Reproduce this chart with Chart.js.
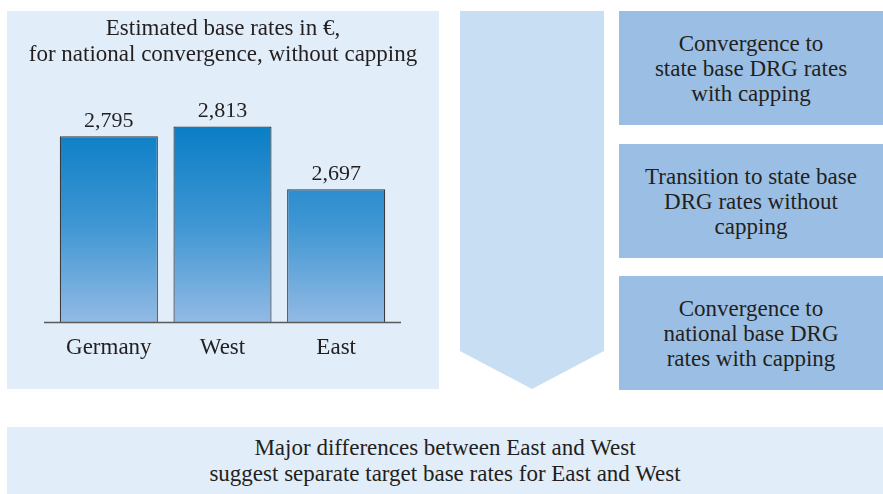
<!DOCTYPE html>
<html>
<head>
<meta charset="utf-8">
<script src="https://cdn.jsdelivr.net/npm/chart.js@4.4.1/dist/chart.umd.min.js"></script>
<style>
  body { margin: 0; background: #fff; font-family: "Liberation Serif", Tinos, "Times New Roman", "DejaVu Serif", serif; color: #231f20; }
  #page { position: relative; width: 883px; height: 494px; overflow: hidden; }
  .box { position: absolute; display: flex; align-items: center; justify-content: center; text-align: center; font-size: 23px; line-height: 25px; }
  #left { position: absolute; left: 7px; top: 11px; width: 432px; height: 378px; background: #e1edf8; }
  #left canvas { display: block; }
  #title { position: absolute; left: 0; top: 4px; width: 432px; text-align: center; font-size: 23px; line-height: 26px; }
  #arrow { position: absolute; left: 460px; top: 11px; width: 144px; height: 378px; background: #c8def2;
           clip-path: polygon(0 0, 100% 0, 100% 340px, 50% 100%, 0 340px); }
  .step { left: 619px; width: 264px; height: 114px; background: #9bbfe4; }
  #bottom { left: 7px; top: 427px; width: 876px; height: 67px; background: #e1edf8; line-height: 26px; }
</style>
</head>
<body>
<div id="page">
  <div id="left"><canvas id="chart" width="432" height="378"></canvas><div id="title"></div></div>
  <div id="arrow"></div>
  <div class="box step" style="top:11px">Convergence to<br>state base DRG rates<br>with capping</div>
  <div class="box step" style="top:144px">Transition to state base<br>DRG rates without<br>capping</div>
  <div class="box step" style="top:276px">Convergence to<br>national base DRG<br>rates with capping</div>
  <div class="box" id="bottom">Major differences between East and West<br>suggest separate target base rates for East and West</div>
</div>
<script>
var titleLines = ["Estimated base rates in \u20ac,", "for national convergence, without capping"];
var regions = ["Germany", "West", "East"];
var baseRates = [2795, 2813, 2697];

var serif = "'Liberation Serif', Tinos, 'Times New Roman', 'DejaVu Serif', serif";

document.getElementById("title").innerHTML = titleLines.join("<br>");

// value labels above bars + baseline a bit wider than the bars
var barExtras = {
    id: "barExtras",
    afterDatasetsDraw: function(chart) {
        var ctx = chart.ctx;
        var meta = chart.getDatasetMeta(0);
        ctx.save();
        ctx.fillStyle = "#231f20";
        ctx.font = "22px " + serif;
        ctx.textAlign = "center";
        ctx.textBaseline = "bottom";
        meta.data.forEach(function(bar, i) {
            ctx.fillText(baseRates[i].toLocaleString("en-US"), bar.x, bar.y - 4);
        });
        var area = chart.chartArea;
        ctx.strokeStyle = "#5a5a5a";
        ctx.lineWidth = 1.5;
        ctx.beginPath();
        ctx.moveTo(area.left - 8, area.bottom);
        ctx.lineTo(area.right + 8, area.bottom);
        ctx.stroke();
        ctx.restore();
    }
};

function barFill(context) {
    var chart = context.chart;
    var area = chart.chartArea;
    if (!area) return "#2a8fd0";
    var top = chart.scales.y.getPixelForValue(Math.max.apply(null, baseRates));
    var g = chart.ctx.createLinearGradient(0, top, 0, area.bottom);
    g.addColorStop(0, "#0a7ec6");
    g.addColorStop(0.5, "#3f96d3");
    g.addColorStop(1, "#92bae4");
    return g;
}

new Chart(document.getElementById("chart").getContext("2d"), {
    type: "bar",
    data: {
        labels: regions,
        datasets: [{
            data: baseRates,
            backgroundColor: barFill,
            borderColor: "#3a3a3a",
            borderWidth: 1.2,
            borderSkipped: "bottom",
            categoryPercentage: 1,
            barPercentage: 0.863
        }]
    },
    options: {
        responsive: false,
        animation: false,
        layout: { padding: { left: 45, right: 46, top: 66, bottom: 15 } },
        plugins: {
            legend: { display: false },
            tooltip: { enabled: false },
            title: { display: false }
        },
        scales: {
            x: {
                grid: { display: false, drawTicks: false },
                border: { display: false },
                ticks: { color: "#231f20", padding: 12, font: { family: serif, size: 23, lineHeight: 1.2 } }
            },
            y: { display: false, min: 2450, max: 2905 }
        }
    },
    plugins: [barExtras]
});
</script>
</body>
</html>
